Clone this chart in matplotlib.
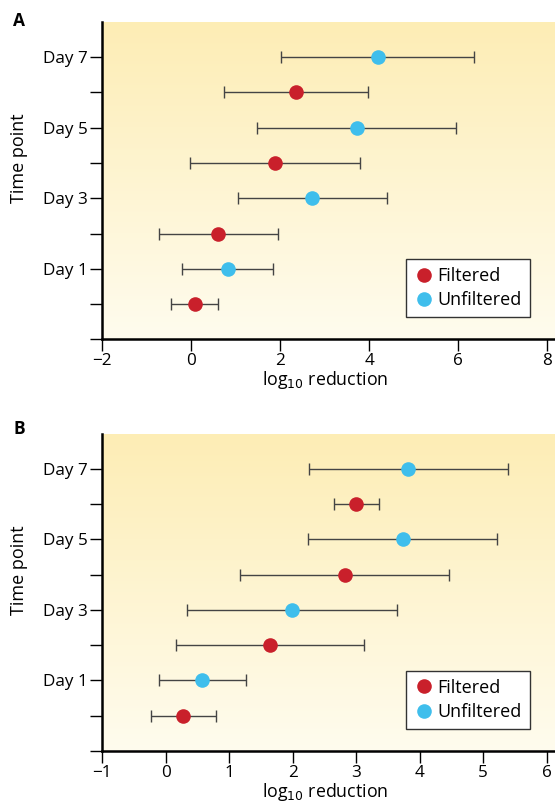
import matplotlib
matplotlib.use("Agg")
import matplotlib.pyplot as plt
import numpy as np
from matplotlib.colors import LinearSegmentedColormap

plt.rcParams["font.family"] = ["Open Sans", "DejaVu Sans"]
plt.rcParams["font.size"] = 12

RED = "#C9202B"
BLUE = "#3FBEEC"
BAR = "#444444"

# row positions: filtered on odd rows, unfiltered on even rows
filt_rows = [1, 3, 5, 7]
unfilt_rows = [2, 4, 6, 8]
tick_labels = ["", "", "Day 1", "", "Day 3", "", "Day 5", "", "Day 7"]

# panel A
a_filt = [0.09, 0.61, 1.88, 2.35]
a_filt_lo = [-0.44, -0.71, -0.03, 0.74]
a_filt_hi = [0.60, 1.95, 3.79, 3.97]
a_unf = [0.83, 2.71, 3.72, 4.19]
a_unf_lo = [-0.21, 1.05, 1.49, 2.02]
a_unf_hi = [1.85, 4.40, 5.95, 6.35]

# panel B
b_filt = [0.28, 1.65, 2.82, 3.00]
b_filt_lo = [-0.23, 0.17, 1.17, 2.65]
b_filt_hi = [0.79, 3.13, 4.46, 3.36]
b_unf = [0.58, 1.99, 3.73, 3.82]
b_unf_lo = [-0.11, 0.34, 2.25, 2.26]
b_unf_hi = [1.27, 3.64, 5.21, 5.39]

grad = LinearSegmentedColormap.from_list("bg", ["#FFFCEE", "#FDEDB5"])


def draw_panel(ax, letter, letter_y, xlim, xticks, fv, flo, fhi, uv, ulo, uhi):
    ax.imshow(np.linspace(0, 1, 256).reshape(-1, 1), cmap=grad, origin="lower",
              extent=[0, 1, 0, 1], transform=ax.transAxes, aspect="auto", zorder=0)

    for vals, lo, hi, rows, col, lab in [(fv, flo, fhi, filt_rows, RED, "Filtered"),
                                         (uv, ulo, uhi, unfilt_rows, BLUE, "Unfiltered")]:
        vals = np.array(vals)
        err = [vals - np.array(lo), np.array(hi) - vals]
        ax.errorbar(vals, rows, xerr=err, fmt="none", ecolor=BAR, elinewidth=1.0,
                    capsize=4.6, capthick=1.0, zorder=2)
        ax.plot(vals, rows, "o", color=col, markersize=10.5, markeredgewidth=0,
                label=lab, zorder=3, linestyle="none")

    ax.set_xlim(*xlim)
    ax.set_ylim(0, 9)
    ax.set_xticks(xticks)
    ax.set_xticklabels([str(t).replace("-", "\u2212") for t in xticks])
    ax.set_yticks(range(9))
    ax.set_yticklabels(tick_labels)
    ax.spines["top"].set_visible(False)
    ax.spines["right"].set_visible(False)
    ax.spines["left"].set_linewidth(1.8)
    ax.spines["bottom"].set_linewidth(1.8)
    ax.tick_params(axis="both", length=8.5, width=1.0, labelsize=12.3)
    ax.tick_params(axis="x", pad=1.5)
    ax.tick_params(axis="y", pad=1.5)
    ax.set_xlabel("log$_{10}$ reduction", fontsize=12.8)
    ax.xaxis.set_label_coords(0.492, -0.094)
    ax.set_ylabel("Time point", fontsize=13)
    ax.yaxis.set_label_coords(-0.163, 0.57)

    leg = ax.legend(loc="lower left", bbox_to_anchor=(0.671, 0.069), fancybox=False,
                    framealpha=1, edgecolor="#333333", fontsize=13, handletextpad=0.2,
                    borderpad=0.45, labelspacing=0.35, handlelength=1.1,
                    borderaxespad=0)
    leg.get_frame().set_linewidth(1.0)
    ax.text(-0.196, letter_y, letter, transform=ax.transAxes, fontsize=12.5,
            fontweight="bold", va="center", ha="left")


fig = plt.figure(figsize=(5.55, 8.02), dpi=100)
ax_a = fig.add_axes([0.1838, 0.5769, 0.8162, 0.3957])
ax_b = fig.add_axes([0.1838, 0.0636, 0.8162, 0.3958])

draw_panel(ax_a, "A", 1.003, (-2, 8.17), [-2, 0, 2, 4, 6, 8],
           a_filt, a_filt_lo, a_filt_hi, a_unf, a_unf_lo, a_unf_hi)
draw_panel(ax_b, "B", 1.015, (-1, 6.13), [-1, 0, 1, 2, 3, 4, 5, 6],
           b_filt, b_filt_lo, b_filt_hi, b_unf, b_unf_lo, b_unf_hi)

fig.savefig("out.png", dpi=100)
